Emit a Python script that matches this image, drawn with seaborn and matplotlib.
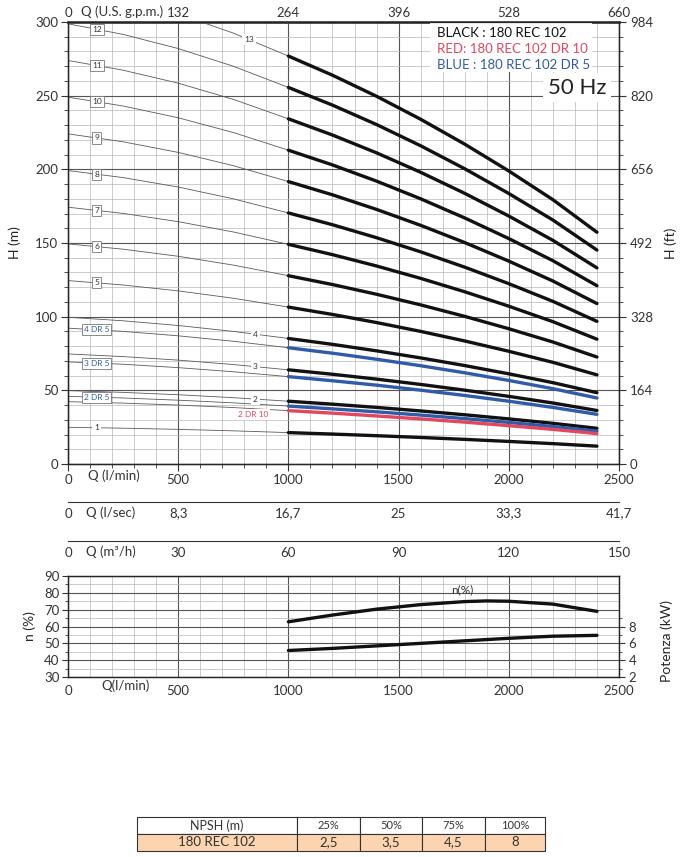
import numpy as np
import matplotlib
matplotlib.use("Agg")
import matplotlib.pyplot as plt
from matplotlib.ticker import MultipleLocator
from matplotlib.patches import Rectangle
import seaborn as sns

# flow points (l/min) the curves were read at; working range starts at 1000
Q_LMIN = [0, 250, 500, 750, 1000, 1200, 1400, 1600, 1800, 2000, 2200, 2400]
SPLIT = 4

# head curves (m), one row per number of stages
STAGES = ["1", "2", "3", "4", "5", "6", "7", "8", "9", "10", "11", "12", "13"]
BLACK_HEADS = [
    [24.9, 24.3, 23.5, 22.5, 21.3, 20.3, 19.2, 18.0, 16.7, 15.3, 13.8, 12.1],
    [49.8, 48.6, 47.0, 45.0, 42.6, 40.6, 38.4, 36.0, 33.4, 30.6, 27.6, 24.2],
    [74.7, 72.9, 70.5, 67.5, 63.9, 60.9, 57.6, 54.0, 50.1, 45.9, 41.4, 36.3],
    [99.6, 97.2, 94.0, 90.0, 85.2, 81.2, 76.8, 72.0, 66.8, 61.2, 55.2, 48.4],
    [124.5, 121.5, 117.5, 112.5, 106.5, 101.5, 96.0, 90.0, 83.5, 76.5, 69.0, 60.5],
    [149.4, 145.8, 141.0, 135.0, 127.8, 121.8, 115.2, 108.0, 100.2, 91.8, 82.8, 72.6],
    [174.3, 170.1, 164.5, 157.5, 149.1, 142.1, 134.4, 126.0, 116.9, 107.1, 96.6, 84.7],
    [199.2, 194.4, 188.0, 180.0, 170.4, 162.4, 153.6, 144.0, 133.6, 122.4, 110.4, 96.8],
    [224.1, 218.7, 211.5, 202.5, 191.7, 182.7, 172.8, 162.0, 150.3, 137.7, 124.2, 108.9],
    [249.0, 243.0, 235.0, 225.0, 213.0, 203.0, 192.0, 180.0, 167.0, 153.0, 138.0, 121.0],
    [273.9, 267.3, 258.5, 247.5, 234.3, 223.3, 211.2, 198.0, 183.7, 168.3, 151.8, 133.1],
    [298.8, 291.6, 282.0, 270.0, 255.6, 243.6, 230.4, 216.0, 200.4, 183.6, 165.6, 145.2],
    [323.7, 315.9, 305.5, 292.5, 276.9, 263.9, 249.6, 234.0, 217.1, 198.9, 179.4, 157.3],
]
BLUE_NAMES = ["4 DR 5", "3 DR 5", "2 DR 5"]
BLUE_HEADS = [
    [92.2, 90.0, 87.0, 83.3, 78.9, 75.2, 71.1, 66.7, 61.9, 56.7, 51.1, 44.8],
    [69.3, 67.7, 65.4, 62.6, 59.3, 56.5, 53.5, 50.1, 46.5, 42.6, 38.4, 33.7],
    [45.9, 44.8, 43.3, 41.5, 39.3, 37.4, 35.4, 33.2, 30.8, 28.2, 25.4, 22.3],
]
RED_NAMES = ["2 DR 10"]
RED_HEADS = [
    [42.3, 41.3, 40.0, 38.3, 36.2, 34.5, 32.6, 30.6, 28.4, 26.0, 23.5, 20.6],
]

# efficiency and power
EFF_Q = [1000, 1200, 1400, 1600, 1800, 1900, 2000, 2200, 2400]
EFF = [62.8, 66.8, 70.3, 73.0, 74.8, 75.2, 75.0, 73.3, 69.0]
POW_Q = [1000, 1200, 1400, 1600, 1800, 2000, 2200, 2400]
POWER = [5.15, 5.4, 5.7, 6.0, 6.3, 6.6, 6.85, 6.95]

Q_TICKS = [0, 500, 1000, 1500, 2000, 2500]
GPM_LABELS = ["0", "132", "264", "396", "528", "660"]
LSEC_LABELS = ["0", "8,3", "16,7", "25", "33,3", "41,7"]
M3H_LABELS = ["0", "30", "60", "90", "120", "150"]
H_TICKS = [0, 50, 100, 150, 200, 250, 300]
FT_LABELS = ["0", "164", "328", "492", "656", "820", "984"]
KW_TICKS = [2, 4, 6, 8]

NPSH_HEADER = ["NPSH (m)", "25%", "50%", "75%", "100%"]
NPSH_ROW = ["180 REC 102", "2,5", "3,5", "4,5", "8"]

BLACK = "#111111"
BLUE = "#2f5ca8"
RED = "#e2475e"
THIN = "#5a5a5a"
TXT = "#333333"

sns.set_style("white")
plt.rcParams["font.family"] = ["Lato", "DejaVu Sans"]
plt.rcParams["text.color"] = TXT
plt.rcParams["xtick.color"] = TXT
plt.rcParams["ytick.color"] = TXT


def grid_axes(ax, ymajor, yminor):
    ax.xaxis.set_major_locator(MultipleLocator(500))
    ax.xaxis.set_minor_locator(MultipleLocator(100))
    ax.yaxis.set_major_locator(MultipleLocator(ymajor))
    ax.yaxis.set_minor_locator(MultipleLocator(yminor))
    ax.grid(which="major", color="#555555", lw=0.8)
    ax.grid(which="minor", color="#b8b8b8", lw=0.5)
    ax.set_axisbelow(True)
    for s in ax.spines.values():
        s.set_color("#333333")
        s.set_linewidth(1.0)


def draw_curve(ax, heads, color):
    sns.lineplot(x=Q_LMIN[:SPLIT + 1], y=heads[:SPLIT + 1], ax=ax,
                 color=THIN, lw=0.6, zorder=3)
    sns.lineplot(x=Q_LMIN[SPLIT:], y=heads[SPLIT:], ax=ax,
                 color=color, lw=2.4, zorder=4)


def curve_label(ax, q, heads, text, color=TXT, box=True, dy=0.0):
    h = np.interp(q, Q_LMIN, heads) + dy
    bbox = dict(boxstyle="square,pad=0.25", fc="white",
                ec="#777777" if box else "none", lw=0.6)
    ax.text(q, h, text, fontsize=6, color=color, ha="center", va="center",
            bbox=bbox, zorder=6)


fig = plt.figure(figsize=(6.8, 8.57), dpi=100)

# ---- head curves ----
ax = fig.add_axes([0.1, 0.4586, 0.8103, 0.5157])
ax.set_xlim(0, 2500)
ax.set_ylim(0, 300)
grid_axes(ax, 50, 10)
ax.spines["top"].set_linewidth(2.0)
ax.spines["top"].set_color("#444444")

for heads in BLACK_HEADS:
    draw_curve(ax, heads, BLACK)
for heads in BLUE_HEADS:
    draw_curve(ax, heads, BLUE)
for heads in RED_HEADS:
    draw_curve(ax, heads, RED)

for name, heads in zip(STAGES, BLACK_HEADS):
    n = int(name)
    if 5 <= n <= 12:
        curve_label(ax, 130, heads, name)
    elif n == 13:
        curve_label(ax, 820, heads, name, box=False)
    elif n == 1:
        curve_label(ax, 130, heads, name, box=False)
    else:
        curve_label(ax, 850, heads, name, box=False)
for name, heads in zip(BLUE_NAMES, BLUE_HEADS):
    curve_label(ax, 130, heads, name, color=BLUE)
curve_label(ax, 840, RED_HEADS[0], RED_NAMES[0], color=RED, box=False, dy=-4)

ax.set_xticks(Q_TICKS)
ax.set_yticks(H_TICKS)
ax.tick_params(axis="both", which="major", length=5, labelsize=9.5, pad=2)
ax.tick_params(axis="both", which="minor", length=3)
ax.set_ylabel("H (m)", fontsize=10, labelpad=10)
ax.text(90, -4, "Q (l/min)", fontsize=9.5, ha="left", va="top")

ax_top = ax.twiny()
ax_top.set_xlim(0, 2500)
ax_top.set_xticks(Q_TICKS)
ax_top.set_xticklabels(GPM_LABELS)
ax_top.tick_params(axis="x", length=0, labelsize=9.5, pad=2)
ax_top.text(60, 300 + 3, "Q (U.S. g.p.m.)", fontsize=9.5, ha="left",
            va="bottom", transform=ax.transData)

ax_ft = ax.twinx()
ax_ft.set_ylim(0, 300)
ax_ft.set_yticks(H_TICKS)
ax_ft.set_yticklabels(FT_LABELS)
ax_ft.yaxis.set_minor_locator(MultipleLocator(10))
ax_ft.tick_params(axis="y", which="major", length=5, labelsize=9.5, pad=3)
ax_ft.tick_params(axis="y", which="minor", length=3)
ax_ft.set_ylabel("H (ft)", fontsize=10, labelpad=8)

# legend block
ax.add_patch(Rectangle((0.657, 0.887), 0.294, 0.11, transform=ax.transAxes,
                       fc="white", ec="none", zorder=5))
ax.text(0.67, 0.975, "BLACK : 180 REC 102", transform=ax.transAxes,
        fontsize=9.5, color=BLACK, va="center", zorder=6)
ax.text(0.67, 0.939, "RED: 180 REC 102 DR 10", transform=ax.transAxes,
        fontsize=9.5, color=RED, va="center", zorder=6)
ax.text(0.67, 0.903, "BLUE : 180 REC 102 DR 5", transform=ax.transAxes,
        fontsize=9.5, color=BLUE, va="center", zorder=6)
ax.text(0.924, 0.851, "50 Hz", transform=ax.transAxes, fontsize=16,
        color="#222222", ha="center", va="center", zorder=6,
        bbox=dict(boxstyle="square,pad=0.2", fc="white", ec="none"))

# ---- extra flow scales ----
for ypos, labels, title in [(0.4142, LSEC_LABELS, "Q (l/sec)"),
                            (0.3687, M3H_LABELS, "Q (m\u00b3/h)")]:
    sa = fig.add_axes([0.1, ypos, 0.8103, 0.0001])
    sa.set_xlim(0, 2500)
    for side in ["top", "left", "right"]:
        sa.spines[side].set_visible(False)
    sa.spines["bottom"].set_color("#333333")
    sa.set_yticks([])
    sa.set_xticks(Q_TICKS)
    sa.set_xticklabels(labels)
    sa.xaxis.set_minor_locator(MultipleLocator(100))
    sa.tick_params(axis="x", which="major", length=3, labelsize=9.5, pad=1)
    sa.tick_params(axis="x", which="minor", length=2)
    sa.annotate(title, xy=(80, 0), xycoords=("data", "axes fraction"),
                xytext=(0, -3.5), textcoords="offset points",
                fontsize=9.5, ha="left", va="top")

# ---- efficiency / power ----
ae = fig.add_axes([0.1, 0.2100, 0.8103, 0.1179])
ae.set_xlim(0, 2500)
ae.set_ylim(30, 90)
grid_axes(ae, 10, 5)
sns.lineplot(x=EFF_Q, y=EFF, ax=ae, color=BLACK, lw=2.4, zorder=4)
ae.set_xticks(Q_TICKS)
ae.tick_params(axis="both", which="major", length=4, labelsize=9.5, pad=2)
ae.tick_params(axis="both", which="minor", length=2)
ae.set_ylabel("n (%)", fontsize=10, labelpad=6)
ae.text(1790, 82, "n(%)", fontsize=8.5, ha="center", va="center")
ae.text(150, 28.5, "Q(l/min)", fontsize=9.5, ha="left", va="top")

ap = ae.twinx()
ap.set_ylim(2, 14)
sns.lineplot(x=POW_Q, y=POWER, ax=ap, color=BLACK, lw=2.4, zorder=4)
ap.set_yticks(KW_TICKS)
ap.set_yticks([3, 5, 7, 9], minor=True)
ap.tick_params(axis="y", which="major", length=4, labelsize=9.5, pad=3)
ap.tick_params(axis="y", which="minor", length=2)
ap.set_ylabel("Potenza (kW)", fontsize=10)
ap.yaxis.set_label_coords(1.075, 0.36)

# ---- NPSH table ----
at = fig.add_axes([0.2015, 0.0070, 0.60, 0.0397])
at.axis("off")
widths = np.array([160, 63, 62, 63, 60], dtype=float)
tbl = at.table(cellText=[NPSH_HEADER, NPSH_ROW], colWidths=list(widths / widths.sum()),
               cellLoc="center", bbox=[0, 0, 1, 1])
tbl.auto_set_font_size(False)
for (r, c), cell in tbl.get_celld().items():
    cell.set_edgecolor("#333333")
    cell.set_linewidth(0.8)
    if r == 1:
        cell.get_text().set_fontsize(9.5)
    else:
        cell.get_text().set_fontsize(9 if c == 0 else 8)
    cell.set_facecolor("#fcd5b0" if r == 1 else "white")

fig.savefig("out.png", dpi=100)
